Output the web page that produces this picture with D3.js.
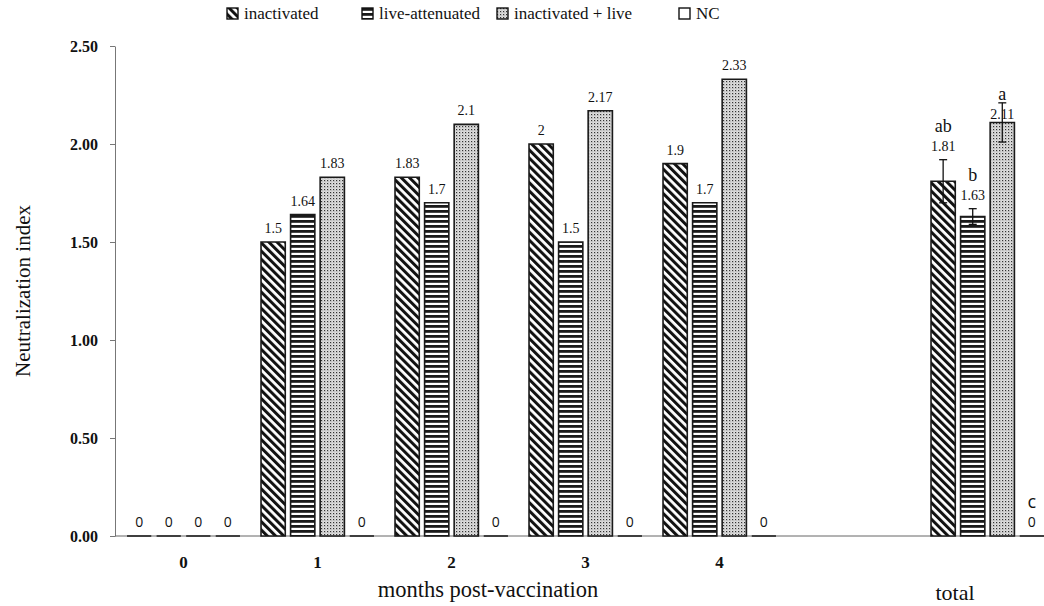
<!DOCTYPE html>
<html><head><meta charset="utf-8">
<script src="https://cdn.jsdelivr.net/npm/d3@7"></script>
<style>body{margin:0;background:#fff}svg{display:block}</style>
</head><body>
<svg id="chart" width="1044" height="606"></svg>
<script>
// ---- data ----
const months = ["0", "1", "2", "3", "4"];
const totalCategory = "total";
const seriesNames = ["inactivated", "live-attenuated", "inactivated + live", "NC"];
const inactivated   = [0, 1.5, 1.83, 2, 1.9];
const liveAttenuated = [0, 1.64, 1.7, 1.5, 1.7];
const combined      = [0, 1.83, 2.1, 2.17, 2.33];
const nc            = [0, 0, 0, 0, 0];
const totalValues   = [1.81, 1.63, 2.11, 0];
const totalErrors   = [0.11, 0.04, 0.10, 0];
const totalLetters  = ["ab", "b", "a", "c"];
const yTicks = [0, 0.5, 1, 1.5, 2, 2.5];
// whether the total label was moved above its error bar (as in the original figure)
const totalLabelAboveError = [true, true, false, false];

const seriesValues = [inactivated, liveAttenuated, combined, nc];
const patternIds = ["p-diag", "p-horiz", "p-dots", "p-none"];

const svg = d3.select("#chart");
const W = 1044, H = 606;
const serif = "'Liberation Serif','Times New Roman',serif";
const sans = "'Open Sans','Liberation Sans',sans-serif";

// ---- patterns ----
const defs = svg.append("defs");
const pd = defs.append("pattern").attr("id", "p-diag").attr("patternUnits", "userSpaceOnUse")
  .attr("width", 5.8).attr("height", 10).attr("patternTransform", "rotate(-45)");
pd.append("rect").attr("width", 5.8).attr("height", 10).attr("fill", "#fff");
pd.append("rect").attr("width", 3).attr("height", 10).attr("fill", "#111");

const ph = defs.append("pattern").attr("id", "p-horiz").attr("patternUnits", "userSpaceOnUse")
  .attr("width", 10).attr("height", 5);
ph.append("rect").attr("width", 10).attr("height", 5).attr("fill", "#fff");
ph.append("rect").attr("width", 10).attr("height", 2.8).attr("fill", "#1a1a1a");

const pt = defs.append("pattern").attr("id", "p-dots").attr("patternUnits", "userSpaceOnUse")
  .attr("width", 3).attr("height", 3);
pt.append("rect").attr("width", 3).attr("height", 3).attr("fill", "#dedede");
pt.append("rect").attr("width", 1.2).attr("height", 1.2).attr("fill", "#333");
pt.append("rect").attr("x", 1.5).attr("y", 1.5).attr("width", 0.8).attr("height", 0.8).attr("fill", "#888");

const pn = defs.append("pattern").attr("id", "p-none").attr("patternUnits", "userSpaceOnUse")
  .attr("width", 4).attr("height", 4);
pn.append("rect").attr("width", 4).attr("height", 4).attr("fill", "#fff");

// ---- scales ----
const domain = months.concat(["_gap", totalCategory]);
const x0 = d3.scaleBand().domain(domain).range([116.5, 1054.5]).paddingInner(0.157).paddingOuter(0.0785);
const x1 = d3.scaleBand().domain(seriesNames).range([0, x0.bandwidth()]).paddingInner(0.18);
const y = d3.scaleLinear().domain([0, 2.5]).range([536, 46]);

// ---- axes ----
const yAxis = d3.axisLeft(y).tickValues(yTicks).tickFormat(d3.format(".2f")).tickSize(5).tickSizeOuter(0);
const gy = svg.append("g").attr("transform", "translate(115,0)").call(yAxis);
gy.select(".domain").attr("stroke", "#777").attr("stroke-width", 1);
gy.selectAll(".tick line").attr("stroke", "#777");
gy.selectAll(".tick text").attr("font-family", serif).attr("font-weight", "bold")
  .attr("font-size", 16).attr("fill", "#111").attr("x", -17);

svg.append("line").attr("x1", 115).attr("x2", W).attr("y1", y(0)).attr("y2", y(0))
  .attr("stroke", "#666").attr("stroke-width", 1);

// month tick labels
svg.append("g").selectAll("text").data(months).join("text")
  .attr("x", d => x0(d) + x0.bandwidth() / 2)
  .attr("y", 568)
  .attr("text-anchor", "middle").attr("font-family", serif).attr("font-weight", "bold")
  .attr("font-size", 17).attr("fill", "#111").text(d => d);

// ---- bars ----
function barPath(x, w, v) {
  const y0 = y(0), y1 = y(v);
  return `M${x},${y0}V${y1}H${x + w}V${y0}Z`;
}
const rows = [];
months.forEach((m, i) => seriesNames.forEach((s, j) => rows.push({cat: m, s, j, v: seriesValues[j][i], err: 0, letter: null, lift: false})));
seriesNames.forEach((s, j) => rows.push({cat: totalCategory, s, j, v: totalValues[j], err: totalErrors[j], letter: totalLetters[j], lift: totalLabelAboveError[j]}));

const gb = svg.append("g");
gb.selectAll("path").data(rows).join("path")
  .attr("d", d => barPath(x0(d.cat) + x1(d.s), x1.bandwidth(), d.v))
  .attr("fill", d => `url(#${patternIds[d.j]})`)
  .attr("stroke", "#1a1a1a").attr("stroke-width", 1.6);

// error bars
const errRows = rows.filter(d => d.err > 0);
const ge = svg.append("g").attr("stroke", "#111").attr("stroke-width", 1.3);
errRows.forEach(d => {
  const cx = x0(d.cat) + x1(d.s) + x1.bandwidth() / 2;
  ge.append("line").attr("x1", cx).attr("x2", cx).attr("y1", y(d.v - d.err)).attr("y2", y(d.v + d.err));
  ge.append("line").attr("x1", cx - 4).attr("x2", cx + 4).attr("y1", y(d.v - d.err)).attr("y2", y(d.v - d.err));
  ge.append("line").attr("x1", cx - 4).attr("x2", cx + 4).attr("y1", y(d.v + d.err)).attr("y2", y(d.v + d.err));
});

// value labels
const labelY = d => d.cat === totalCategory && !d.lift && d.v > 0 ? y(d.v) - 3 : y(d.v + (d.lift ? d.err : 0)) - 9;
svg.append("g").selectAll("text").data(rows).join("text")
  .attr("x", d => x0(d.cat) + x1(d.s) + x1.bandwidth() / 2)
  .attr("y", labelY)
  .attr("text-anchor", "middle")
  .attr("font-family", d => d.v === 0 ? sans : serif)
  .attr("font-size", 14)
  .attr("fill", "#111")
  .text(d => String(d.v));

// significance letters
svg.append("g").selectAll("text").data(rows.filter(d => d.letter)).join("text")
  .attr("x", d => x0(d.cat) + x1(d.s) + x1.bandwidth() / 2)
  .attr("y", d => labelY(d) - 19)
  .attr("text-anchor", "middle").attr("font-family", d => d.v === 0 ? sans : serif)
  .attr("font-size", 18).attr("fill", "#111")
  .text(d => d.letter);

// ---- titles ----
svg.append("text").attr("transform", `translate(30,${(46 + 536) / 2}) rotate(-90)`)
  .attr("text-anchor", "middle").attr("font-family", serif).attr("font-size", 21).attr("fill", "#111")
  .text("Neutralization index");
svg.append("text").attr("x", 488).attr("y", 597).attr("text-anchor", "middle")
  .attr("font-family", serif).attr("font-size", 22.5).attr("fill", "#111").text("months post-vaccination");
svg.append("text").attr("x", 955).attr("y", 600).attr("text-anchor", "middle")
  .attr("font-family", serif).attr("font-size", 22).attr("fill", "#111").text(totalCategory);

// ---- legend ----
const legendX = [227, 362, 497, 679];
const lg = svg.append("g");
seriesNames.forEach((s, j) => {
  const g = lg.append("g").attr("transform", `translate(${legendX[j]},8)`);
  g.append("rect").attr("width", 11).attr("height", 11).attr("fill", `url(#${patternIds[j]})`)
    .attr("stroke", "#111").attr("stroke-width", 1.4);
  g.append("text").attr("x", 17).attr("y", 11).attr("font-family", serif).attr("font-size", 17)
    .attr("fill", "#111").text(s);
});
</script>
</body></html>
